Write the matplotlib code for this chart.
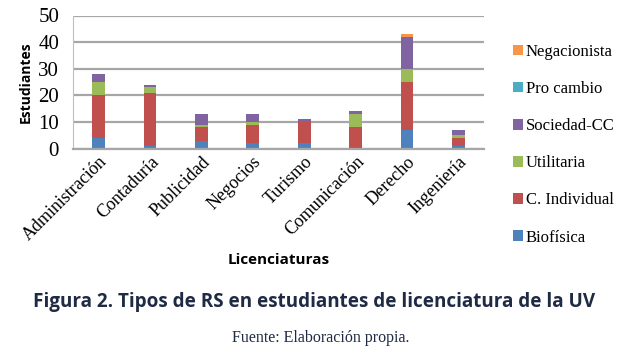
import numpy as np
import matplotlib.pyplot as plt

# data
carreras = ["Administración", "Contaduría", "Publicidad", "Negocios",
            "Turismo", "Comunicación", "Derecho", "Ingeniería"]
biofisica = [4, 1, 3, 2, 2, 0, 7, 1]
c_individual = [16, 20, 5, 7, 8, 8, 18, 3]
utilitaria = [5, 2, 1, 1, 0, 5, 5, 1]
sociedad_cc = [3, 1, 4, 3, 1, 1, 12, 2]
pro_cambio = [0, 0, 0, 0, 0, 0, 0, 0]
negacionista = [0, 0, 0, 0, 0, 0, 1, 0]

series = [
    ("Biofísica", biofisica, "#4F81BD"),
    ("C. Individual", c_individual, "#C0504D"),
    ("Utilitaria", utilitaria, "#9BBB59"),
    ("Sociedad-CC", sociedad_cc, "#8064A2"),
    ("Pro cambio", pro_cambio, "#4BACC6"),
    ("Negacionista", negacionista, "#F79646"),
]

serif = "Liberation Serif"
sans = "Open Sans"

fig = plt.figure(figsize=(6.28, 3.55), dpi=100)
ax = fig.add_axes([73 / 628, 1 - 148.5 / 355, (484 - 73) / 628, (148.5 - 15.5) / 355])

x = np.arange(len(carreras))
bottom = np.zeros(len(carreras))
handles = []
for name, vals, color in series:
    h = ax.bar(x, vals, width=0.25, bottom=bottom, color=color, label=name, zorder=2)
    handles.append(h)
    bottom += np.array(vals)

ax.set_xlim(-0.5, len(carreras) - 0.5)
ax.set_ylim(0, 50)
ax.set_yticks([0, 10, 20, 30, 40, 50])
ax.yaxis.grid(True, color="#A6A6A6", linewidth=1.6, zorder=0)
ax.set_axisbelow(True)
for s in ["top", "right"]:
    ax.spines[s].set_visible(False)
ax.spines["left"].set_color("#BFBFBF")
ax.spines["bottom"].set_color("#A6A6A6")
ax.spines["bottom"].set_linewidth(1.6)
ax.tick_params(axis="both", length=0)
ax.tick_params(axis="y", pad=10)
ax.set_yticklabels([str(v) for v in [0, 10, 20, 30, 40, 50]], family=serif, fontsize=15)
ax.set_xticks(x)
ax.set_xticklabels(carreras, rotation=45, ha="right", rotation_mode="anchor",
                   family=serif, fontsize=13)

ax.set_ylabel("Estudiantes", family=sans, fontweight="bold", fontsize=10, labelpad=4)
ax.set_xlabel("Licenciaturas", family=sans, fontweight="bold", fontsize=11, labelpad=6)

leg = ax.legend(handles[::-1], [s[0] for s in series][::-1], loc="upper left",
                bbox_to_anchor=(1.035, 0.9), frameon=False, handlelength=0.6,
                handleheight=0.6, handletextpad=0.15, labelspacing=1.27,
                prop={"family": serif, "size": 12})

fig.text(0.5, 1 - 302 / 355, "Figura 2. Tipos de RS en estudiantes de licenciatura de la UV",
         ha="center", va="center", family=sans, fontweight="bold", fontsize=13.6,
         color="#1F2A44")
fig.text(0.51, 1 - 338 / 355, "Fuente: Elaboración propia.", ha="center", va="center",
         family=serif, fontsize=11.5, color="#1F2A44")

fig.savefig("out.png", dpi=100)
